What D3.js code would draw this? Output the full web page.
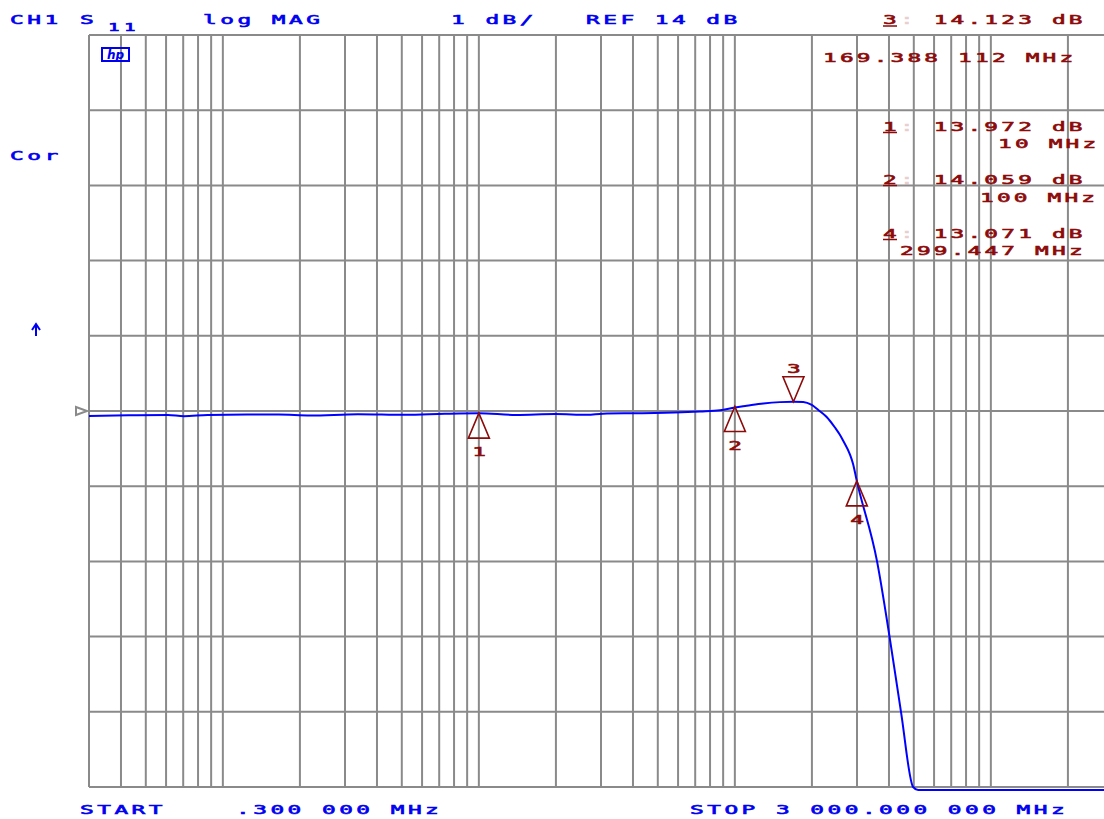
<!DOCTYPE html>
<html lang="en">
<head>
  <meta charset="UTF-8">
  <title>CH1 S11 log MAG</title>
  <script src="https://d3js.org/d3.v7.min.js"></script>
  <style>
    body { margin: 0; background: #fff; }
    svg { display: block; }
  </style>
</head>
<body>

<div id="chart"></div>

<script>

// trace: frequency in MHz, magnitude in dB
var freqMHz = [0.3, 0.428, 0.61, 0.704, 0.872, 1.244, 1.652, 2.195, 3.37, 5.16, 7.35, 10,
               13.96, 19.9, 26.5, 30.5, 43.5, 61.9, 73.1, 87.5, 100, 111.2, 129.2, 150,
               169.4, 185, 199.7, 211.8, 228.4, 246, 257.5, 265.3, 281.7, 289.4, 299.4,
               359.3, 402, 445.6, 497, 520, 1000, 3000];
var magDB   = [13.934, 13.943, 13.947, 13.931, 13.947, 13.952, 13.952, 13.939, 13.957, 13.949, 13.963, 13.970,
               13.947, 13.960, 13.949, 13.965, 13.971, 13.984, 13.995, 14.010, 14.048, 14.070, 14.100, 14.118,
               14.123, 14.120, 14.080, 14.013, 13.920, 13.780, 13.680, 13.600, 13.420, 13.300, 13.071,
               12.000, 11.000, 10.000, 9.000, 8.600, 8.0, 8.0];

// markers
var markerId   = ["1", "2", "3", "4"];
var markerFreq = [10, 100, 169.388112, 299.447];
var markerDB   = [13.972, 14.059, 14.123, 13.071];
var markerDBText   = ["13.972", "14.059", "14.123", "13.071"];
var markerFreqText = ["10 MHz", "100 MHz", "169.388 112 MHz", "299.447 MHz"];
var activeMarker = "3";

// scale settings
var startMHz = 0.3, stopMHz = 3000;
var refDB = 14, dbPerDiv = 1, divisions = 10;

var width = 1104, height = 819;
var plotLeft = 89, plotTop = 35, plotBottom = 787;
var decadePx = 256;

var blue = "#0000f0", red = "#8c0a0a", grid = "#8a8a8a";

var svg = d3.select("#chart").append("svg")
    .attr("width", width)
    .attr("height", height);

svg.append("rect").attr("width", width).attr("height", height).attr("fill", "#fff");

var x = d3.scaleLog()
    .domain([startMHz, stopMHz])
    .range([plotLeft, plotLeft + decadePx * Math.log10(stopMHz / startMHz)]);

var y = d3.scaleLinear()
    .domain([refDB - dbPerDiv * divisions / 2, refDB + dbPerDiv * divisions / 2])
    .range([plotBottom, plotTop]);

// grid
var vTicks = [];
[0.1, 1, 10, 100, 1000].forEach(function(d) {
  for (var k = 1; k <= 9; k++) {
    var v = +(d * k).toPrecision(3);
    if (v >= startMHz && v <= stopMHz) vTicks.push(v);
  }
});
var hTicks = d3.range(0, divisions + 1).map(function(i) { return y.domain()[0] + i * dbPerDiv; });

var g = svg.append("g").attr("stroke", grid).attr("stroke-width", 2);
g.selectAll(".v").data(vTicks).enter().append("line")
    .attr("x1", function(d) { return x(d); }).attr("x2", function(d) { return x(d); })
    .attr("y1", plotTop).attr("y2", plotBottom);
g.selectAll(".h").data(hTicks).enter().append("line")
    .attr("x1", plotLeft).attr("x2", x.range()[1])
    .attr("y1", function(d) { return y(d); }).attr("y2", function(d) { return y(d); });

// reference position marker on the left
var yr = y(refDB);
svg.append("path")
    .attr("d", "M" + 76 + "," + (yr - 4) + "L" + 87 + "," + yr + "L" + 76 + "," + (yr + 4) + "Z")
    .attr("fill", "none").attr("stroke", grid).attr("stroke-width", 2);

// trace (clamped just below the bottom edge when off screen)
var yMin = y.domain()[0];
var line = d3.line()
    .curve(d3.curveMonotoneX)
    .x(function(d, i) { return x(freqMHz[i]); })
    .y(function(d) { return d < yMin ? y(yMin) + 3 : y(d); });

svg.append("path")
    .datum(magDB)
    .attr("d", line)
    .attr("fill", "none")
    .attr("stroke", "#0000ff")
    .attr("stroke-width", 2)
    .attr("stroke-linejoin", "round");

// plotter style text: fixed cell pitch, wide glyphs
function plotText(str, px, py, color, opts) {
  opts = opts || {};
  var size = opts.size || 13, pitch = opts.pitch || 17.2, sx = opts.sx || 1.75;
  var adv = 0.602 * size;
  var t = svg.append("g")
      .attr("transform", "translate(" + px + "," + py + ") scale(" + sx + ",1)")
    .append("text")
      .attr("x", 0).attr("y", 0)
      .attr("font-family", "DejaVu Sans Mono")
      .attr("font-size", size)
      .attr("letter-spacing", (pitch / sx - adv).toFixed(2))
      .attr("fill", color)
      .attr("stroke", color)
      .attr("stroke-width", 0.6)
      .text(str);
  if (opts.opacity) t.attr("opacity", opts.opacity);
  return t;
}

// header
plotText("CH1", 10, 24, blue);
plotText("S", 80, 24, blue);
plotText("1", 108, 31, blue, {size: 11});
plotText("1", 124, 31, blue, {size: 11});
plotText("log MAG", 203, 24, blue);
plotText("1 dB/", 451, 24, blue);
plotText("REF 14 dB", 586, 24, blue);

plotText("Cor", 10, 160, blue);

// small up arrow
svg.append("path")
    .attr("d", "M36,336V325M32,330L36,324L40,330")
    .attr("fill", "none").attr("stroke", blue).attr("stroke-width", 2);

// hp logo
svg.append("rect").attr("x", 102).attr("y", 48).attr("width", 27).attr("height", 13)
    .attr("fill", "none").attr("stroke", blue).attr("stroke-width", 2);
svg.append("text").attr("x", 115.5).attr("y", 59).attr("text-anchor", "middle")
    .attr("font-family", "DejaVu Sans").attr("font-size", 12).attr("font-style", "italic")
    .attr("font-weight", "bold").attr("fill", blue).text("hp");

// marker readouts
var rp = 16.9;
function readout(i, by, fx, fy) {
  plotText(markerId[i], 883, by, red, {pitch: rp});
  svg.append("line").attr("x1", 883).attr("x2", 897).attr("y1", by + 2).attr("y2", by + 2)
      .attr("stroke", red).attr("stroke-width", 1.5);
  plotText(":", 883 + rp, by, red, {pitch: rp, opacity: 0.2});
  plotText(markerDBText[i] + " dB", 883 + 3 * rp, by, red, {pitch: rp});
  plotText(markerFreqText[i], fx, fy, red, {pitch: rp});
}
var ai = markerId.indexOf(activeMarker);
readout(ai, 24, 823, 62);
var rows = [[130.5, 998, 148], [183.5, 980, 201.5], [237.5, 900, 255]];
var others = markerId.map(function(d, i) { return i; }).filter(function(i) { return i !== ai; });
others.forEach(function(i, k) { readout(i, rows[k][0], rows[k][1], rows[k][2]); });

// marker triangles on the trace
markerId.forEach(function(id, i) {
  var mx = x(markerFreq[i]), my = y(markerDB[i]);
  var down = id === activeMarker;
  var h = down ? -25 : 25;
  svg.append("path")
      .attr("d", "M" + mx + "," + my + "L" + (mx - 10.5) + "," + (my + h) + "L" + (mx + 10.5) + "," + (my + h) + "Z")
      .attr("fill", "none").attr("stroke", red).attr("stroke-width", 1.6);
  plotText(id, mx - 6.5, down ? my - 29 : my + 43, red, {pitch: rp});
});

// start / stop
plotText("START", 80, 814, blue);
plotText(".300 000 MHz", 236, 814, blue);
plotText("STOP 3 000.000 000 MHz", 690, 814, blue);

</script>

</body>
</html>
